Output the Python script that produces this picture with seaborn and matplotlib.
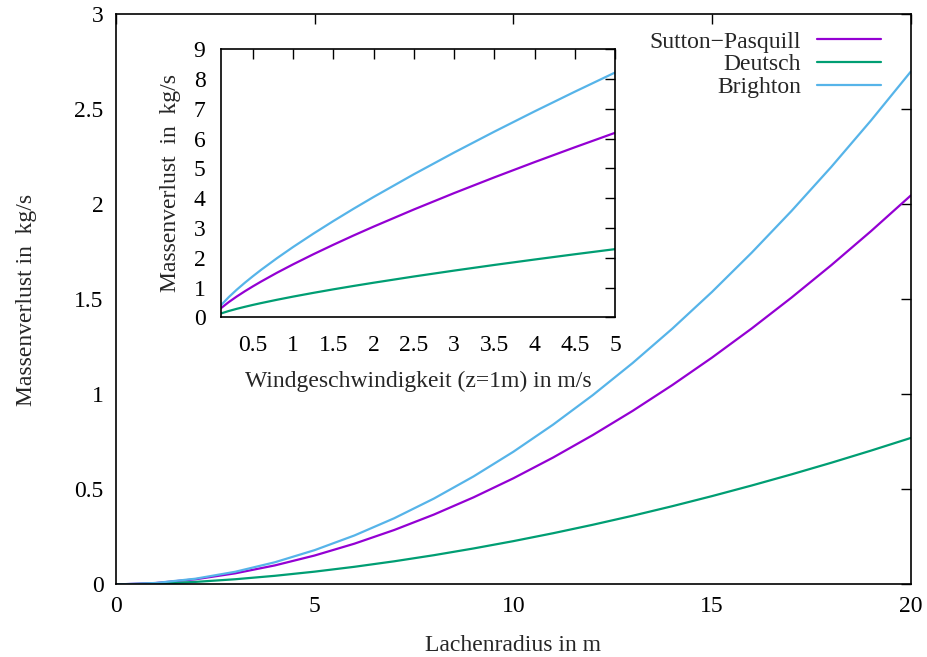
import matplotlib
matplotlib.use("Agg")
import matplotlib.pyplot as plt
import seaborn as sns
import pandas as pd

# Pool radius (m) and mass loss (kg/s) for each evaporation model
radius = [0, 1, 2, 3, 4, 5, 6, 7, 8, 9, 10, 11, 12, 13, 14, 15, 16, 17, 18, 19, 20]
sutton_r = [0.0, 0.0075, 0.0274, 0.0586, 0.1004, 0.1525, 0.2147, 0.2866, 0.3679,
            0.4587, 0.5588, 0.6681, 0.7865, 0.9134, 1.0495, 1.1942, 1.3477,
            1.5099, 1.6804, 1.8595, 2.047]
deutsch_r = [0.0, 0.0040, 0.0135, 0.0275, 0.0456, 0.0675, 0.0930, 0.1219, 0.1541,
             0.1896, 0.2281, 0.2697, 0.3143, 0.3617, 0.4120, 0.4651, 0.5210,
             0.5795, 0.6406, 0.7045, 0.771]
brighton_r = [0.0, 0.0078, 0.0303, 0.0668, 0.1170, 0.1808, 0.2579, 0.3484, 0.4521,
              0.5689, 0.6985, 0.8413, 0.9968, 1.1652, 1.3463, 1.5400, 1.7468,
              1.9659, 2.1975, 2.4421, 2.699]

# Wind speed at z=1m (m/s) and mass loss (kg/s)
wind = [0.1, 0.2, 0.3, 0.4, 0.5, 0.6, 0.8, 1.0, 1.25, 1.5, 1.75, 2.0, 2.5, 3.0,
        3.5, 4.0, 4.5, 5.0]
sutton_u = [0.299, 0.511, 0.700, 0.875, 1.040, 1.198, 1.498, 1.780, 2.116, 2.437,
            2.747, 3.046, 3.621, 4.171, 4.700, 5.212, 5.710, 6.196]
deutsch_u = [0.127, 0.212, 0.286, 0.353, 0.417, 0.477, 0.590, 0.696, 0.821, 0.940,
             1.053, 1.162, 1.371, 1.569, 1.759, 1.941, 2.118, 2.29]
brighton_u = [0.396, 0.678, 0.929, 1.161, 1.380, 1.590, 1.987, 2.362, 2.807, 3.233,
              3.644, 4.041, 4.804, 5.533, 6.235, 6.915, 7.576, 8.22]

models = ["Sutton\u2212Pasquill", "Deutsch", "Brighton"]
colors = ["#9400D3", "#009E73", "#56B4E9"]

main_x_ticks = [0, 5, 10, 15, 20]
main_y_ticks = [0, 0.5, 1, 1.5, 2, 2.5, 3]
inset_x_ticks = [0.5, 1, 1.5, 2, 2.5, 3, 3.5, 4, 4.5, 5]
inset_y_ticks = [0, 1, 2, 3, 4, 5, 6, 7, 8, 9]

FS = 17

sns.set_style("white")
plt.rcParams["font.family"] = ["Liberation Serif", "DejaVu Serif"]
plt.rcParams["font.size"] = FS

df_r = pd.DataFrame({
    "x": radius * 3,
    "y": sutton_r + deutsch_r + brighton_r,
    "Modell": [m for m in models for _ in radius],
})
df_u = pd.DataFrame({
    "x": wind * 3,
    "y": sutton_u + deutsch_u + brighton_u,
    "Modell": [m for m in models for _ in wind],
})
palette = dict(zip(models, colors))

fig = plt.figure(figsize=(9.28, 6.57), dpi=100)
ax = fig.add_axes([0.125, 0.1104, 0.8564, 0.8676])
sns.lineplot(data=df_r, x="x", y="y", hue="Modell", palette=palette,
             linewidth=1.6, ax=ax, legend=True)
ax.set_xlim(0, 20)
ax.set_ylim(0, 3)
ax.set_xticks(main_x_ticks)
ax.set_yticks(main_y_ticks)
ax.set_xticklabels([str(t) for t in main_x_ticks])
ax.set_yticklabels(["0", "0.5", "1", "1.5", "2", "2.5", "3"])
ax.set_xlabel("Lachenradius in m", labelpad=13)
ax.set_ylabel("Massenverlust in  kg/s", labelpad=27)
ax.tick_params(direction="in", length=7, width=1, top=True, right=True,
               labelsize=FS, colors="black")
ax.tick_params(axis="x", pad=8)
ax.tick_params(axis="y", pad=9)
for s in ax.spines.values():
    s.set_linewidth(1.2)
    s.set_color("black")

leg = ax.legend(loc="upper right", frameon=False, markerfirst=False,
                handlelength=2.75, handletextpad=0.65, labelspacing=0.05,
                borderaxespad=0.3, fontsize=FS, bbox_to_anchor=(0.984, 1.0))
for t in leg.get_texts():
    t.set_ha("right")
leg._legend_box.align = "right"

ins = fig.add_axes([0.2378, 0.517, 0.4249, 0.4079])
sns.lineplot(data=df_u, x="x", y="y", hue="Modell", palette=palette,
             linewidth=1.6, ax=ins, legend=False)
ins.set_xlim(0.1, 5)
ins.set_ylim(0, 9)
ins.set_xticks(inset_x_ticks)
ins.set_yticks(inset_y_ticks)
ins.set_xticklabels(["0.5", "1", "1.5", "2", "2.5", "3", "3.5", "4", "4.5", "5"])
ins.set_yticklabels([str(t) for t in inset_y_ticks])
ins.set_xlabel("Windgeschwindigkeit (z=1m) in m/s", labelpad=11)
ins.set_ylabel("Massenverlust  in  kg/s", labelpad=9)
ins.tick_params(direction="in", length=7, width=1, top=True, right=True,
                labelsize=FS, colors="black")
ins.tick_params(axis="x", pad=12.5)
ins.tick_params(axis="y", pad=11)
for s in ins.spines.values():
    s.set_linewidth(1.2)
    s.set_color("black")

fig.savefig("out.png", dpi=100)
